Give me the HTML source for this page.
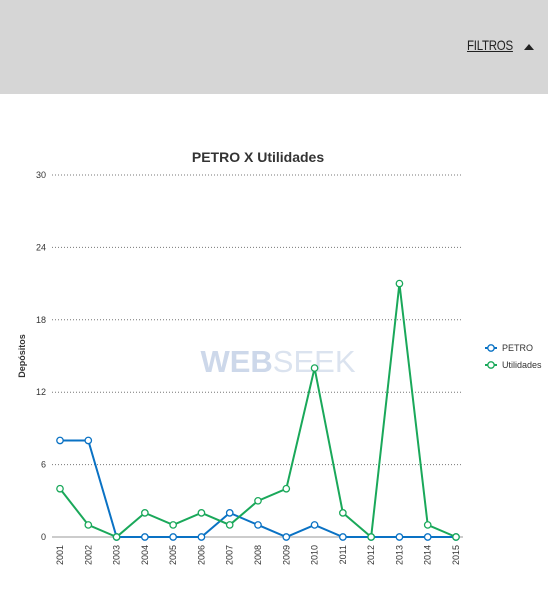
<!DOCTYPE html>
<html><head><meta charset="utf-8"><style>
body{margin:0;width:548px;height:600px;background:#fff;font-family:"Liberation Sans",sans-serif;overflow:hidden;position:relative}
#hdr{position:absolute;left:0;top:0;width:548px;height:94px;background:#d6d6d6}
#filtros{position:absolute;left:467px;top:37px;font-size:14px;color:#222;text-decoration:underline;transform:scaleX(0.82);transform-origin:left top;letter-spacing:-0.3px}
#tri{position:absolute;left:524px;top:44px;width:0;height:0;border-left:5px solid transparent;border-right:5px solid transparent;border-bottom:6px solid #222}
</style></head><body>
<div id="hdr"></div>
<div id="filtros">FILTROS</div>
<div id="tri"></div>
<svg id="chart" width="548" height="600" style="position:absolute;left:0;top:0"></svg>
<script>
const years=["2001","2002","2003","2004","2005","2006","2007","2008","2009","2010","2011","2012","2013","2014","2015"];
const petro=[8,8,0,0,0,0,2,1,0,1,0,0,0,0,0];
const util=[4,1,0,2,1,2,1,3,4,14,2,0,21,1,0];
const yTicks=[0,6,12,18,24,30];
const NS="http://www.w3.org/2000/svg";
const svg=document.getElementById('chart');
const x=i=>60+i*(456-60)/(years.length-1);
const y=v=>537-v*(537-175)/30;
function el(t,a,p){const e=document.createElementNS(NS,t);for(const k in a)e.setAttribute(k,a[k]);(p||svg).appendChild(e);return e;}
let t=el('text',{x:258,y:162,'text-anchor':'middle','font-size':14,'font-weight':'bold',fill:'#333'});t.textContent='PETRO X Utilidades';


let wm=el('text',{x:278,y:372,'text-anchor':'middle','font-size':31,fill:'#dbe3ef'});


const w1=el('tspan',{'font-weight':'bold',fill:'#cdd8ea'},wm);w1.textContent='WEB';
const w2=el('tspan',{},wm);w2.textContent='SEEK';
yTicks.forEach(v=>{
 const g=el('line',{x1:52,x2:463,y1:y(v),y2:y(v),stroke:v===0?'#999':'#777','stroke-dasharray':v===0?'':'1,2','stroke-width':1});
 
 
 const l=el('text',{x:46,y:y(v)+3,'text-anchor':'end','font-size':9,fill:'#333'});l.textContent=v;
 
 
});
let yt=el('text',{x:25,y:356,'text-anchor':'middle','font-size':9,'font-weight':'bold',fill:'#333',transform:'rotate(-90 25 356)'});yt.textContent='Depósitos';


years.forEach((yr,i)=>{
 const l=el('text',{x:x(i)+3,y:545,'text-anchor':'end','font-size':9,fill:'#333',transform:`rotate(-90 ${x(i)+3} 545)`});l.textContent=yr;
 
 
});
function series(data,color,name){
 const p=el('polyline',{points:data.map((v,i)=>x(i)+','+y(v)).join(' '),fill:'none',stroke:color,'stroke-width':2});
 
 
 data.forEach((v,i)=>{
  const c=el('circle',{cx:x(i),cy:y(v),r:3.2,fill:'#fff',stroke:color,'stroke-width':1.3});
  
  
 });
}
series(petro,'#0a72c4','petro');
series(util,'#1aa85a','utilidades');
[['PETRO','#0a72c4',348],['Utilidades','#1aa85a',365]].forEach(([n,c,yy])=>{
 const g=el('g',{});
 
 
 el('line',{x1:485,x2:497,y1:yy,y2:yy,stroke:c,'stroke-width':2},g);
 el('circle',{cx:491,cy:yy,r:3.2,fill:'#fff',stroke:c,'stroke-width':1.3},g);
 const tx=el('text',{x:502,y:yy+3,'font-size':9,fill:'#333'},g);tx.textContent=n;
});
</script>
</body></html>
